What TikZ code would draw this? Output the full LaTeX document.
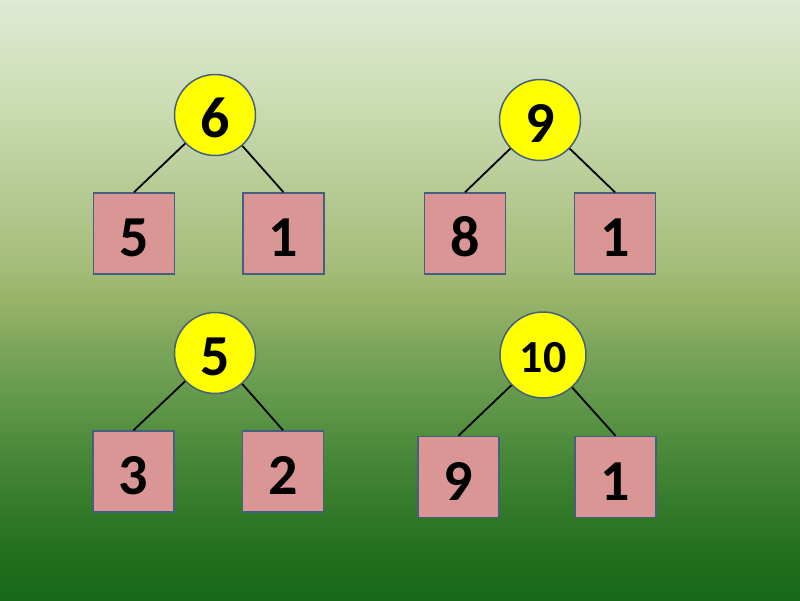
\documentclass[tikz,border=0pt]{standalone}
\usepackage{fontspec}
\setmainfont{Carlito}
\definecolor{bgA}{HTML}{186818}
\definecolor{bgB}{HTML}{24701E}
\definecolor{bgC}{HTML}{367C2C}
\definecolor{bgD}{HTML}{4A8A3A}
\definecolor{bgE}{HTML}{62984A}
\definecolor{bgF}{HTML}{7AA45A}
\definecolor{bgG}{HTML}{98B468}
\definecolor{bgH}{HTML}{A6BE7C}
\definecolor{bgI}{HTML}{B4C890}
\definecolor{bgJ}{HTML}{CCDDB4}
\definecolor{bgK}{HTML}{E0EAD4}
\definecolor{edgeblue}{HTML}{45607F}
\definecolor{boxpink}{HTML}{D99694}
\definecolor{ballyellow}{HTML}{FFFF00}
\pgfdeclareverticalshading{bggreen}{100bp}{%
  color(0bp)=(bgA);
  color(25bp)=(bgA);
  color(29.17bp)=(bgB);
  color(33.33bp)=(bgC);
  color(37.5bp)=(bgD);
  color(41.67bp)=(bgE);
  color(45.83bp)=(bgF);
  color(50bp)=(bgG);
  color(53.33bp)=(bgH);
  color(58.33bp)=(bgI);
  color(66.67bp)=(bgJ);
  color(75bp)=(bgK);
  color(100bp)=(bgK)}
\begin{document}
\begin{tikzpicture}[x=1pt,y=1pt,
  ball/.style={circle,draw=edgeblue,line width=1.5pt,fill=ballyellow,minimum size=81pt,inner sep=0pt,text height=44pt,text depth=0pt,font=\fontsize{58}{58}\selectfont\bfseries},
  numbox/.style={rectangle,draw=edgeblue,line width=1.5pt,fill=boxpink,minimum width=81pt,minimum height=81pt,inner sep=0pt,text height=46pt,text depth=0pt,font=\fontsize{58}{58}\selectfont\bfseries},
  link/.style={line width=1.8pt,black}]
\useasboundingbox (0,0) rectangle (800,-600);
\shade[shading=bggreen] (0,0) rectangle (800,-600);
% tree 1
\node[ball] (c1) at (215,-115) {6};
\node[numbox] (b1) at (134,-233.5) {5};
\node[numbox] (b2) at (283.5,-233.5) {1};
% tree 2
\node[ball] (c2) at (540,-120) {9};
\node[numbox] (b3) at (465,-233.5) {8};
\node[numbox] (b4) at (615,-233.5) {1};
% tree 3
\node[ball] (c3) at (215,-353) {5};
\node[numbox] (b5) at (133.5,-471.5) {3};
\node[numbox] (b6) at (283,-471.5) {2};
% tree 4
\node[ball,minimum size=86pt,text height=35pt,font=\fontsize{46}{46}\selectfont\bfseries] (c4) at (543,-355) {10};
\node[numbox] (b7) at (458.5,-477) {9};
\node[numbox] (b8) at (615.5,-477) {1};
% links
\draw[link] (c1) -- (b1.north);
\draw[link] (c1) -- (b2.north);
\draw[link] (c2) -- (b3.north);
\draw[link] (c2) -- (b4.north);
\draw[link] (c3) -- (b5.north);
\draw[link] (c3) -- (b6.north);
\draw[link] (c4) -- (b7.north);
\draw[link] (c4) -- (b8.north);
\end{tikzpicture}
\end{document}
